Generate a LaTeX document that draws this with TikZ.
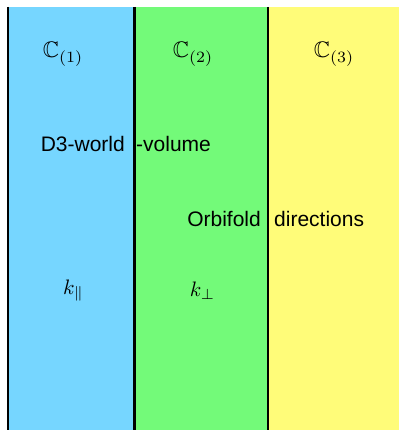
\documentclass[tikz,border=0pt]{standalone}
\usepackage{amsmath,amssymb}
\usepackage{fontspec}
\setsansfont{Liberation Sans}
\usepackage{tikz}
\usetikzlibrary{positioning}
\definecolor{SkyBlue}{RGB}{118,214,255}
\definecolor{FloraGreen}{RGB}{115,250,121}
\definecolor{BananaYellow}{RGB}{255,252,121}
\tikzset{
  divider/.style={line width=2.2pt, color=black},
  txt/.style={font=\fontsize{21}{25}\selectfont\sffamily, inner sep=0pt},
  sym/.style={scale=2.25, inner sep=0pt, anchor=base},
}

\begin{document}
\begin{tikzpicture}[x=1pt, y=-1pt]
  \useasboundingbox (0,0) rectangle (399,430);
  % strips
  \fill[SkyBlue] (8,7) rectangle (134,430);
  \fill[FloraGreen] (134,7) rectangle (268,430);
  \fill[BananaYellow] (268,7) rectangle (399,430);
  % dividing lines
  \coordinate (top1) at (8,7);    \coordinate (bot1) at (8,430);
  \coordinate (top2) at (134.5,7); \coordinate (bot2) at (134.5,430);
  \coordinate (top3) at (268,7);  \coordinate (bot3) at (268,430);
  \draw[divider] (top1)--(bot1);
  \draw[divider] (top2)--(bot2);
  \draw[divider] (top3)--(bot3);
  % labels
  \node[sym] (c1) at (63,58) {$\mathbb{C}_{(1)}$};
  \node[sym] (c2) at (193,58) {$\mathbb{C}_{(2)}$};
  \node[sym] (c3) at (334,58) {$\mathbb{C}_{(3)}$};
  \node[txt, anchor=base east] (dworld) at (125,152) {D3-world};
  \node[txt, anchor=base west] (vol) at (136,152) {-volume};
  \node[txt, anchor=base east] (orb) at (261,226) {Orbifold};
  \node[txt, anchor=base west] (dirs) at (274,226) {directions};
  \node[sym, scale=0.93] (kpar) at (73.5,294) {$k_{\parallel}$};
  \node[sym, scale=0.93] (kperp) at (202.5,296) {$k_{\perp}$};
\end{tikzpicture}
\end{document}
